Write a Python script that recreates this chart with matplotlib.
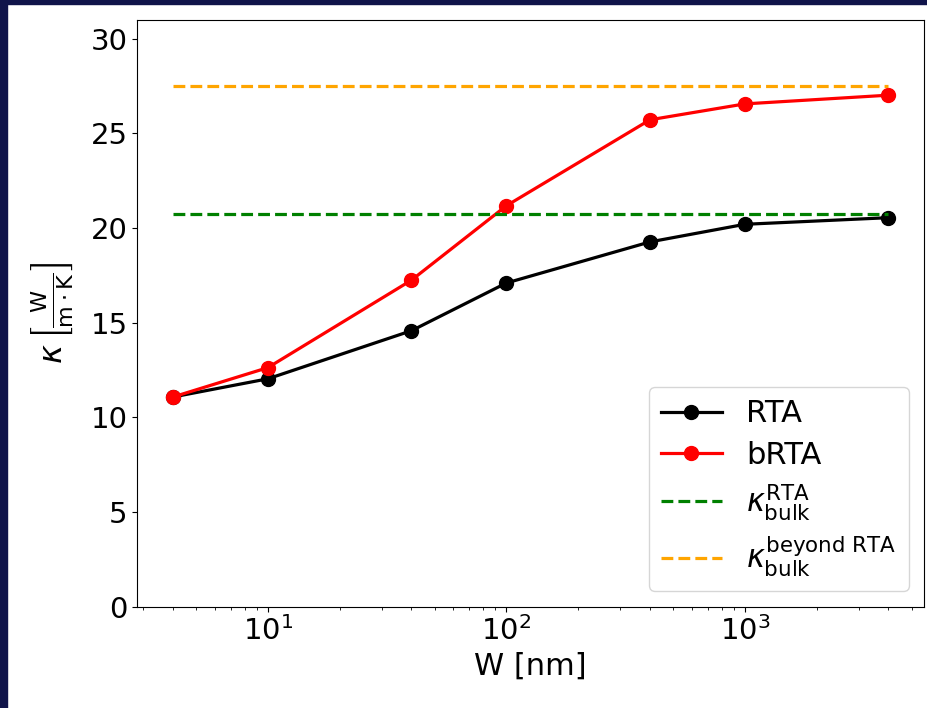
import matplotlib
matplotlib.use('Agg')
import matplotlib.pyplot as plt
from matplotlib.patches import Rectangle

widths = [4, 10, 40, 100, 400, 1000, 4000]
kappa_rta = [11.08, 12.04, 14.58, 17.1, 19.27, 20.2, 20.55]
kappa_brta = [11.08, 12.63, 17.25, 21.18, 25.72, 26.56, 27.02]
bulk_rta = 20.75
bulk_brta = 27.5

fig = plt.figure(figsize=(9.27, 7.08), dpi=100)
ax = fig.add_axes([0.148, 0.143, 0.849, 0.829])

# navy strips along left and top edge of the slide
fig.patches.append(Rectangle((0, 0), 7 / 927, 1, transform=fig.transFigure,
                             color='#10144a', zorder=10))
fig.patches.append(Rectangle((0, 1 - 4 / 708), 1, 4 / 708, transform=fig.transFigure,
                             color='#10144a', zorder=10))

ax.plot(widths, kappa_rta, 'o-', c='black', lw=2.3, ms=10, label='RTA')
ax.plot(widths, kappa_brta, 'o-', c='red', lw=2.3, ms=10, label='bRTA')
ax.hlines(bulk_rta, widths[0], widths[-1], colors='green', linestyles='--', lw=2.3,
          label=r'$\kappa_{\mathrm{bulk}}^{\mathrm{RTA}}$')
ax.hlines(bulk_brta, widths[0], widths[-1], colors='orange', linestyles='--', lw=2.3,
          label=r'$\kappa_{\mathrm{bulk}}^{\mathrm{beyond\ RTA}}$')

ax.set_xscale('log')
ax.set_ylim(0, 31)
ax.set_yticks([0, 5, 10, 15, 20, 25, 30])
ax.set_xlabel('W [nm]', fontsize=22)
ax.set_ylabel(r'$\kappa\,\left[\frac{\mathrm{W}}{\mathrm{m\cdot K}}\right]$', fontsize=23,
              labelpad=10)
ax.tick_params(axis='both', labelsize=21)
ax.legend(loc='lower right', fontsize=22, handlelength=2.0, labelspacing=0.4)

fig.savefig('out.png', dpi=100)
